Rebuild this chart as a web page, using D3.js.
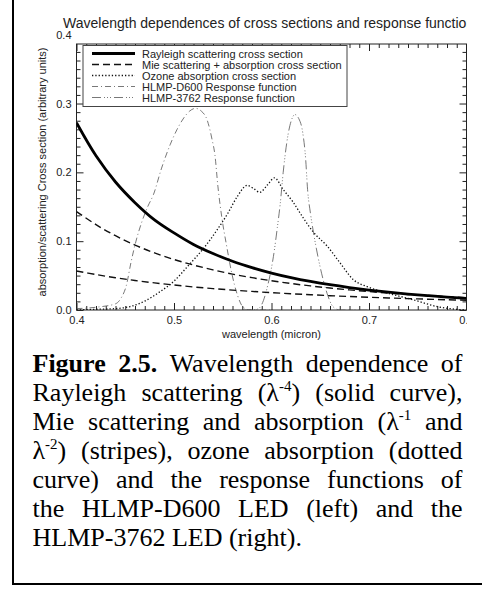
<!DOCTYPE html>
<html>
<head>
<meta charset="utf-8">
<script src="https://cdn.jsdelivr.net/npm/d3@7"></script>
<style>
  html, body { margin: 0; padding: 0; background: #fff; }
  svg { display: block; }
</style>
</head>
<body>
<svg id="fig" width="482" height="589"></svg>
<script>
// ---- data ----
const lambdaGrid = [0.40,0.42,0.44,0.46,0.48,0.50,0.52,0.54,0.56,0.58,0.60,0.62,0.64,0.66,0.68,0.70,0.72,0.74,0.76,0.78,0.80];
const rayleigh  = [0.272,0.224,0.186,0.156,0.131,0.112,0.0952,0.0820,0.0708,0.0616,0.0537,0.0471,0.0415,0.0367,0.0326,0.0290,0.0259,0.0232,0.0209,0.0188,0.0170];
const mieUpper  = [0.143,0.124,0.108,0.0943,0.0830,0.0734,0.0653,0.0583,0.0522,0.0470,0.0425,0.0385,0.0350,0.0319,0.0292,0.0268,0.0246,0.0226,0.0209,0.0194,0.0179];
const mieLower  = [0.0567,0.0515,0.0469,0.0429,0.0394,0.0363,0.0335,0.0311,0.0289,0.0270,0.0252,0.0236,0.0222,0.0208,0.0196,0.0185,0.0175,0.0166,0.0157,0.0149,0.0142];

const ozoneLambda = [0.400,0.420,0.440,0.455,0.470,0.485,0.500,0.515,0.530,0.545,0.555,0.565,0.575,0.582,0.588,0.596,0.603,0.612,0.622,0.632,0.643,0.657,0.670,0.684,0.698,0.718,0.745,0.773,0.790,0.800];
const ozoneValue  = [0.000,0.001,0.002,0.005,0.013,0.026,0.042,0.065,0.089,0.118,0.140,0.165,0.181,0.176,0.171,0.182,0.192,0.175,0.157,0.135,0.113,0.093,0.069,0.044,0.034,0.025,0.015,0.004,0.001,0.000];

const d600Lambda = [0.400,0.420,0.440,0.446,0.451,0.456,0.461,0.467,0.473,0.479,0.487,0.496,0.503,0.510,0.516,0.522,0.528,0.534,0.539,0.542,0.545,0.549,0.554,0.559,0.565,0.571,0.578,0.600];
const d600Value  = [0.002,0.004,0.009,0.018,0.035,0.070,0.100,0.128,0.150,0.168,0.205,0.240,0.262,0.279,0.289,0.293,0.289,0.276,0.248,0.225,0.180,0.135,0.093,0.055,0.022,0.004,0.000,0.000];

const h3762Lambda = [0.570,0.585,0.590,0.596,0.602,0.606,0.609,0.612,0.617,0.621,0.624,0.628,0.632,0.635,0.637,0.640,0.643,0.648,0.653,0.658,0.663,0.670,0.700];
const h3762Value  = [0.000,0.001,0.008,0.035,0.078,0.120,0.155,0.200,0.255,0.278,0.284,0.278,0.258,0.220,0.175,0.140,0.113,0.075,0.044,0.020,0.005,0.000,0.000];

const xTicks = [0.4, 0.5, 0.6, 0.7, 0.8];
const yTicks = [0.0, 0.1, 0.2, 0.3, 0.4];

const legendLabels = [
  "Rayleigh scattering cross section",
  "Mie scattering + absorption cross section",
  "Ozone absorption cross section",
  "HLMP-D600 Response function",
  "HLMP-3762 Response function"
];

const titleText = "Wavelength dependences of cross sections and response function";
const xLabel = "wavelength (micron)";
const yLabel = "absorption/scattering Cross section (arbitrary units)";

// ---- layout ----
const svg = d3.select("#fig");
const plot = { left: 76.5, right: 466.5, top: 44, bottom: 310 };
const x = d3.scaleLinear().domain([0.4, 0.8]).range([plot.left, plot.right]);
const y = d3.scaleLinear().domain([0, 0.4]).range([plot.bottom, 34.7]);
const axisFont = "'Liberation Sans', Arial, Helvetica, sans-serif";
const ink = "#222";

const defs = svg.append("defs");
defs.append("clipPath").attr("id", "figClip")
  .append("rect").attr("x", 0).attr("y", 0).attr("width", 467).attr("height", 345);
defs.append("clipPath").attr("id", "plotClip")
  .append("rect").attr("x", plot.left).attr("y", plot.top)
  .attr("width", plot.right - plot.left).attr("height", plot.bottom - plot.top);

const chart = svg.append("g").attr("clip-path", "url(#figClip)");

// title (runs past the clipped right edge of the figure)
chart.append("text")
  .attr("x", 63).attr("y", 27.5)
  .attr("font-family", axisFont).attr("font-size", 14)
  .attr("fill", ink)
  .text(titleText);

// minor tick values
const xMinor = d3.range(41, 80).filter(i => i % 10 !== 0).map(i => i / 100);
const yMinor = d3.range(1, 31).filter(i => i % 8 !== 0).map(i => i * 0.0125);

function styleAxis(g) {
  g.selectAll("line").attr("stroke", ink);
  g.selectAll("text").attr("font-family", axisFont).attr("font-size", 11).attr("fill", ink);
}

// bottom axis
chart.append("g").attr("transform", `translate(0,${plot.bottom})`)
  .call(d3.axisBottom(x).tickValues(xTicks).tickSizeInner(-7).tickSizeOuter(0)
        .tickPadding(6).tickFormat(d3.format(".1f")))
  .call(g => g.select(".domain").remove())
  .call(styleAxis);
chart.append("g").attr("transform", `translate(0,${plot.bottom})`)
  .call(d3.axisBottom(x).tickValues(xMinor).tickSize(-4).tickFormat(""))
  .call(g => g.select(".domain").remove())
  .call(styleAxis);

// top axis (ticks only)
chart.append("g").attr("transform", `translate(0,${plot.top})`)
  .call(d3.axisTop(x).tickValues(xTicks).tickSize(-7).tickFormat(""))
  .call(g => g.select(".domain").remove())
  .call(styleAxis);
chart.append("g").attr("transform", `translate(0,${plot.top})`)
  .call(d3.axisTop(x).tickValues(xMinor).tickSize(-4).tickFormat(""))
  .call(g => g.select(".domain").remove())
  .call(styleAxis);

// left axis
chart.append("g").attr("transform", `translate(${plot.left},0)`)
  .call(d3.axisLeft(y).tickValues(yTicks).tickSizeInner(-7).tickSizeOuter(0)
        .tickPadding(5).tickFormat(d3.format(".1f")))
  .call(g => g.select(".domain").remove())
  .call(g => g.selectAll(".tick").filter(d => y(d) < plot.top).select("line").remove())
  .call(styleAxis);
chart.append("g").attr("transform", `translate(${plot.left},0)`)
  .call(d3.axisLeft(y).tickValues(yMinor).tickSize(-4).tickFormat(""))
  .call(g => g.select(".domain").remove())
  .call(styleAxis);

// right axis (ticks only)
chart.append("g").attr("transform", `translate(${plot.right},0)`)
  .call(d3.axisRight(y).tickValues(yTicks.filter(v => y(v) >= plot.top)).tickSize(-7).tickFormat(""))
  .call(g => g.select(".domain").remove())
  .call(styleAxis);
chart.append("g").attr("transform", `translate(${plot.right},0)`)
  .call(d3.axisRight(y).tickValues(yMinor).tickSize(-4).tickFormat(""))
  .call(g => g.select(".domain").remove())
  .call(styleAxis);

// plot frame
chart.append("rect")
  .attr("x", plot.left).attr("y", plot.top)
  .attr("width", plot.right - plot.left).attr("height", plot.bottom - plot.top)
  .attr("fill", "none").attr("stroke", ink).attr("stroke-width", 1);

// axis titles
chart.append("text")
  .attr("x", (plot.left + plot.right) / 2).attr("y", 338)
  .attr("text-anchor", "middle")
  .attr("font-family", axisFont).attr("font-size", 11).attr("fill", ink)
  .text(xLabel);
chart.append("text")
  .attr("transform", "translate(46,172) rotate(-90)")
  .attr("text-anchor", "middle")
  .attr("font-family", axisFont).attr("font-size", 11).attr("fill", ink)
  .text(yLabel);

// curves
const styles = [
  { width: 2.8, dash: null,               color: "#000" },
  { width: 1.4, dash: "7,4",              color: "#111" },
  { width: 1.3, dash: "1.3,2",            color: "#111" },
  { width: 0.8, dash: "6,3,1,3",          color: "#555" },
  { width: 0.8, dash: "9,3,1,2,1,2,1,3",  color: "#555" }
];

const curves = chart.append("g").attr("clip-path", "url(#plotClip)");
function drawSeries(xs, ys, st, curve) {
  const pts = xs.map((l, i) => [l, ys[i]]);
  curves.append("path")
    .datum(pts)
    .attr("fill", "none")
    .attr("stroke", st.color)
    .attr("stroke-width", st.width)
    .attr("stroke-dasharray", st.dash)
    .attr("d", d3.line().x(d => x(d[0])).y(d => y(d[1])).curve(curve));
}
drawSeries(ozoneLambda, ozoneValue, styles[2], d3.curveMonotoneX);
drawSeries(d600Lambda, d600Value, styles[3], d3.curveMonotoneX);
drawSeries(h3762Lambda, h3762Value, styles[4], d3.curveMonotoneX);
drawSeries(lambdaGrid, mieUpper, styles[1], d3.curveCatmullRom);
drawSeries(lambdaGrid, mieLower, styles[1], d3.curveCatmullRom);
drawSeries(lambdaGrid, rayleigh, styles[0], d3.curveCatmullRom);

// legend
const leg = chart.append("g");
leg.append("rect")
  .attr("x", 83).attr("y", 45.5).attr("width", 264).attr("height", 61)
  .attr("fill", "#fff").attr("stroke", "#444").attr("stroke-width", 1);
legendLabels.forEach((lab, i) => {
  const cy = 53.5 + i * 11;
  const st = styles[i];
  leg.append("line")
    .attr("x1", 92).attr("x2", 135).attr("y1", cy).attr("y2", cy)
    .attr("stroke", st.color).attr("stroke-width", st.width)
    .attr("stroke-dasharray", st.dash);
  leg.append("text")
    .attr("x", 142).attr("y", cy + 4)
    .attr("font-family", axisFont).attr("font-size", 11).attr("fill", ink)
    .text(lab);
});

// ---- caption (justified serif text) ----
const capFont = "'Liberation Serif', 'Times New Roman', Times, serif";
const capSize = 26;
const capLeft = 32.5, capRight = 462.5, capTop = 372, capStep = 29;
const B = t => ({ t, b: true });
const S = t => ({ t, sup: true });
const captionLines = [
  [[B("Figure")], [B("2.5.")], ["Wavelength"], ["dependence"], ["of"]],
  [["Rayleigh"], ["scattering"], ["(λ", S("-4"), ")"], ["(solid"], ["curve),"]],
  [["Mie"], ["scattering"], ["and"], ["absorption"], ["(λ", S("-1")], ["and"]],
  [["λ", S("-2"), ")"], ["(stripes),"], ["ozone"], ["absorption"], ["(dotted"]],
  [["curve)"], ["and"], ["the"], ["response"], ["functions"], ["of"]],
  [["the"], ["HLMP-D600"], ["LED"], ["(left)"], ["and"], ["the"]],
  [["HLMP-3762"], ["LED"], ["(right)."]]
];

const cap = svg.append("g");
captionLines.forEach((words, li) => {
  const baseY = capTop + li * capStep;
  const nodes = words.map(parts => {
    const t = cap.append("text")
      .attr("y", baseY)
      .attr("font-family", capFont).attr("font-size", capSize).attr("fill", "#000");
    let raised = false;
    parts.forEach(p => {
      const seg = typeof p === "string" ? { t: p } : p;
      const ts = t.append("tspan").text(seg.t);
      if (seg.b) ts.attr("font-weight", "bold");
      if (seg.sup) {
        ts.attr("font-size", 15).attr("dy", -10);
        raised = true;
      } else if (raised) {
        ts.attr("dy", 10);
        raised = false;
      }
    });
    return t;
  });
  const widths = nodes.map(n => n.node().getComputedTextLength());
  const total = d3.sum(widths);
  const last = li === captionLines.length - 1;
  const gap = last ? capSize * 0.25 : (capRight - capLeft - total) / (nodes.length - 1);
  let cx = capLeft;
  nodes.forEach((n, i) => { n.attr("x", cx); cx += widths[i] + gap; });
});

// outer frame lines
svg.append("line").attr("x1", 13).attr("x2", 13).attr("y1", 0).attr("y2", 585)
  .attr("stroke", "#000").attr("stroke-width", 2);
svg.append("line").attr("x1", 12).attr("x2", 482).attr("y1", 584).attr("y2", 584)
  .attr("stroke", "#000").attr("stroke-width", 2);
</script>
</body>
</html>
